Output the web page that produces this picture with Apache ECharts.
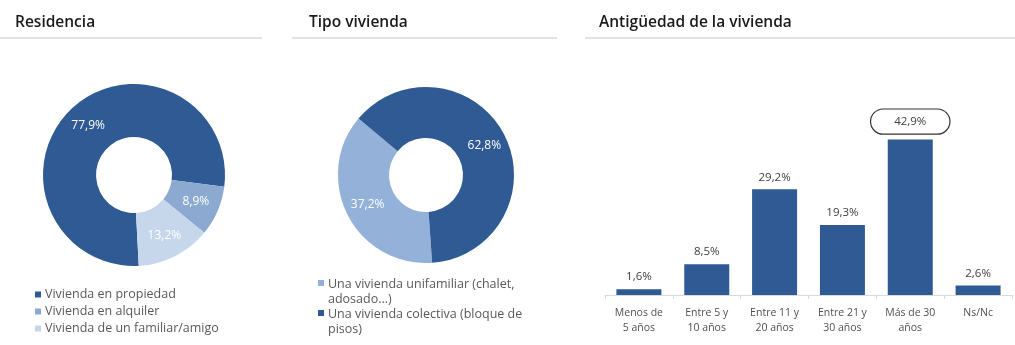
<!DOCTYPE html>
<html>
<head>
<meta charset="utf-8">
<script src="https://cdn.jsdelivr.net/npm/echarts@6/dist/echarts.min.js"></script>
<style>
  html, body { margin: 0; padding: 0; background: #fff; }
  #chart { width: 1015px; height: 345px; }
</style>
</head>
<body>
<div id="chart"></div>
<script>
var residenciaNames = ['Vivienda en propiedad', 'Vivienda en alquiler', 'Vivienda de un familiar/amigo'];
var residenciaValues = [77.9, 8.9, 13.2];

var tipoNames = ['Una vivienda unifamiliar (chalet, adosado...)', 'Una vivienda colectiva (bloque de pisos)'];
var tipoValues = [37.2, 62.8];

var antiguedadCats = ['Menos de\n5 años', 'Entre 5 y\n10 años', 'Entre 11 y\n20 años', 'Entre 21 y\n30 años', 'Más de 30\naños', 'Ns/Nc'];
var antiguedadValues = [1.6, 8.5, 29.2, 19.3, 42.9, 2.6];

var legendWrap = {
    'Una vivienda unifamiliar (chalet, adosado...)': 'Una vivienda unifamiliar (chalet,\nadosado...)',
    'Una vivienda colectiva (bloque de pisos)': 'Una vivienda colectiva (bloque de\npisos)'
};

var font = 'Open Sans';
var dark = '#2f5a94';
var mid = '#8ca9d1';
var light = '#c6d6eb';
var tipoLight = '#94b2d9';

// square at the top of a tall box so the icon sits by the first text line
var topIcon = 'path://M0,0h6v6h-6zM0,24h0.01v0.01h-0.01z';

function pct(v) {
    return v.toFixed(1).replace('.', ',') + '%';
}

var chart = echarts.init(document.getElementById('chart'));

var titleStyle = { fontFamily: font, fontSize: 15.5, fontWeight: 600, color: '#1a1a1a' };
var legendText = { fontFamily: font, fontSize: 12.5, color: '#595959', lineHeight: 15, padding: [0, 0, 0, -1] };

var option = {
    animation: false,
    textStyle: { fontFamily: font },
    title: [
        { text: 'Residencia', left: 10, top: 10, textStyle: titleStyle },
        { text: 'Tipo vivienda', left: 304, top: 10, textStyle: titleStyle },
        { text: 'Antigüedad de la vivienda', left: 594, top: 10, textStyle: titleStyle }
    ],
    graphic: [
        { type: 'rect', shape: { x: 0, y: 37, width: 262, height: 2 }, style: { fill: '#e2e2e2' } },
        { type: 'rect', shape: { x: 292, y: 37, width: 265, height: 2 }, style: { fill: '#e2e2e2' } },
        { type: 'rect', shape: { x: 585, y: 37, width: 430, height: 2 }, style: { fill: '#e2e2e2' } }
    ],
    legend: [
        {
            data: residenciaNames,
            orient: 'vertical',
            left: 30,
            top: 282,
            itemWidth: 6,
            itemHeight: 6,
            itemGap: 2,
            icon: 'rect',
            textStyle: legendText
        },
        {
            data: [tipoNames[0]],
            left: 313,
            top: 272,
            itemWidth: 6,
            itemHeight: 24,
            icon: topIcon,
            formatter: function (name) { return legendWrap[name]; },
            textStyle: legendText
        },
        {
            data: [tipoNames[1]],
            left: 313,
            top: 302,
            itemWidth: 6,
            itemHeight: 24,
            icon: topIcon,
            formatter: function (name) { return legendWrap[name]; },
            textStyle: legendText
        }
    ],
    grid: { left: 605, right: 3, top: 132, bottom: 50 },
    xAxis: {
        type: 'category',
        data: antiguedadCats,
        axisLine: { lineStyle: { color: '#d9d9d9' } },
        axisTick: { show: true, length: 4, lineStyle: { color: '#d9d9d9' } },
        axisLabel: { interval: 0, fontFamily: font, fontSize: 10.5, color: '#505050', lineHeight: 15, margin: 11 }
    },
    yAxis: {
        type: 'value',
        min: 0,
        max: 45,
        show: false,
        splitLine: { show: false }
    },
    series: [
        {
            type: 'pie',
            center: [134, 175],
            radius: [38, 91],
            startAngle: 273,
            data: residenciaNames.map(function (n, i) {
                return { name: n, value: residenciaValues[i], itemStyle: { color: [dark, mid, light][i] } };
            }),
            label: {
                position: 'inside',
                formatter: function (p) { return pct(p.value); },
                color: '#fff',
                fontFamily: font,
                fontSize: 12
            },
            labelLine: { show: false }
        },
        {
            type: 'pie',
            center: [426, 175],
            radius: [37, 88],
            startAngle: 274,
            data: tipoNames.map(function (n, i) {
                return { name: n, value: tipoValues[i], itemStyle: { color: [tipoLight, dark][i] } };
            }),
            label: {
                position: 'inside',
                formatter: function (p) { return pct(p.value); },
                color: '#fff',
                fontFamily: font,
                fontSize: 12
            },
            labelLine: { show: false }
        },
        {
            type: 'bar',
            data: antiguedadValues.map(function (v) {
                var d = { value: v };
                if (v === Math.max.apply(null, antiguedadValues)) {
                    d.label = {
                        borderColor: '#333',
                        borderWidth: 1.2,
                        borderRadius: 14,
                        backgroundColor: '#fff',
                        padding: [6, 23],
                        distance: 6
                    };
                }
                return d;
            }),
            barWidth: 45,
            itemStyle: { color: dark },
            label: {
                show: true,
                position: 'top',
                formatter: function (p) { return pct(p.value); },
                color: '#404040',
                fontFamily: font,
                fontSize: 11.5,
                distance: 6
            }
        }
    ]
};

chart.setOption(option);
</script>
</body>
</html>
